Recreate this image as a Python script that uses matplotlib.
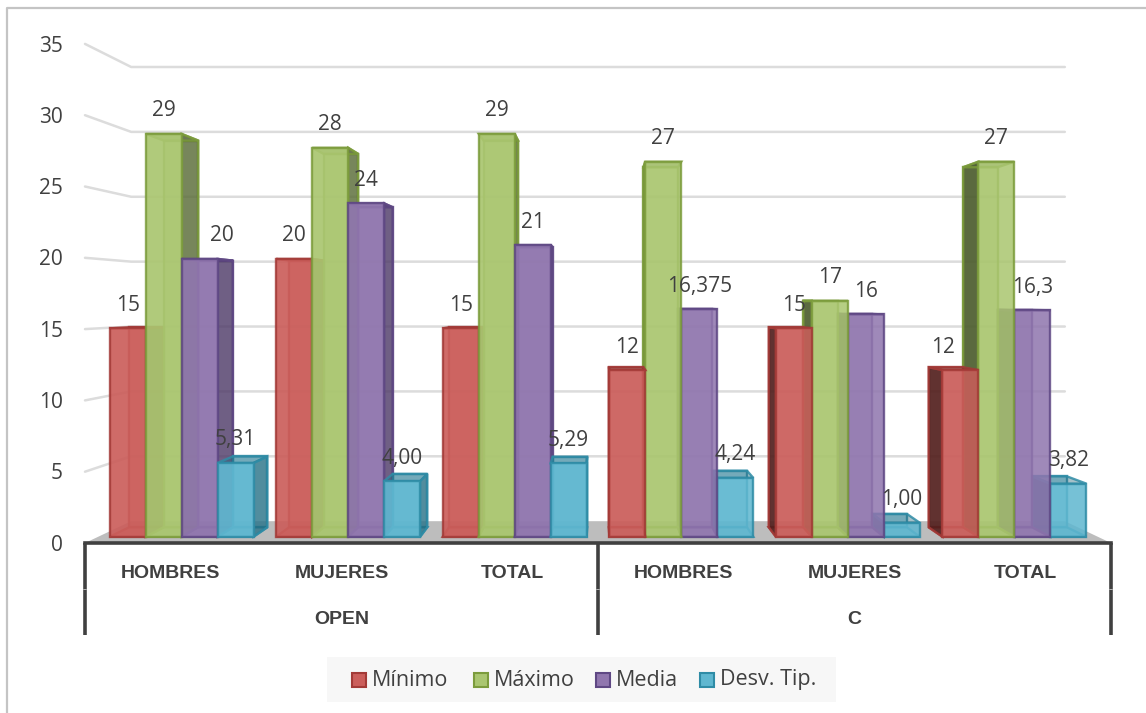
import matplotlib
matplotlib.use('Agg')
import matplotlib.pyplot as plt
from matplotlib.patches import Polygon, Rectangle

categories = ['HOMBRES', 'MUJERES', 'TOTAL', 'HOMBRES', 'MUJERES', 'TOTAL']
groups = ['OPEN', 'C']
series_names = ['Mínimo', 'Máximo', 'Media', 'Desv. Tip.']
minimo = [15, 20, 15, 12, 15, 12]
maximo = [29, 28, 29, 27, 17, 27]
media = [20, 24, 21, 16.375, 16, 16.3]
desv = [5.31, 4.00, 5.29, 4.24, 1.00, 3.82]
label_minimo = ['15', '20', '15', '12', '15', '12']
label_maximo = ['29', '28', '29', '27', '17', '27']
label_media = ['20', '24', '21', '16,375', '16', '16,3']
label_desv = ['5,31', '4,00', '5,29', '4,24', '1,00', '3,82']
y_ticks = [0, 5, 10, 15, 20, 25, 30, 35]

all_values = [minimo, maximo, media, desv]
all_labels = [label_minimo, label_maximo, label_media, label_desv]
faces = ['#cb5e5b', '#aac670', '#9076ae', '#5fb7d0']
edges = ['#a33a37', '#7c9c3c', '#5f4884', '#2f8ca6']
sides = ['#4a1c1a', '#46552a', '#402e58', '#1f6478']
TEXT = '#404040'

W, H = 1146, 713
PX_X = 171.0    # pixels per category on the front plane
PX_Y = 14.26    # pixels per unit on the front plane
X0, Y0 = 85, 543

# perspective: everything shrinks towards this point as depth grows
VX, VY = 3.0, 17.0
S_BAR_FRONT = 0.974
S_BAR_BACK = 0.935
S_WALL = 0.91
BAR_W = 0.216


def proj(x, y, s):
    return (VX + (x - VX) * s, VY + (y - VY) * s)


def draw_bar(ax, x, value, i):
    x1 = x + BAR_W
    fb = [proj(x, 0, S_BAR_FRONT), proj(x1, 0, S_BAR_FRONT)]
    ft = [proj(x, value, S_BAR_FRONT), proj(x1, value, S_BAR_FRONT)]
    bb = [proj(x, 0, S_BAR_BACK), proj(x1, 0, S_BAR_BACK)]
    bt = [proj(x, value, S_BAR_BACK), proj(x1, value, S_BAR_BACK)]
    # the side turned to the viewer depends on which half the bar is in
    k = 1 if x1 < VX else 0
    front_alpha = 0.92 if k == 1 else 0.86
    polys = [
        ([fb[0], fb[1], bb[1], bb[0]], faces[i], 0.5),
        ([bb[0], bb[1], bt[1], bt[0]], faces[i], 0.5),
        ([fb[k], ft[k], bt[k], bb[k]], sides[i], 0.85 if k == 0 else 0.65),
        ([ft[0], ft[1], bt[1], bt[0]], sides[i], 0.4),
        ([fb[0], fb[1], ft[1], ft[0]], faces[i], front_alpha),
    ]
    for pts, col, alpha in polys:
        ax.add_patch(Polygon(pts, closed=True, facecolor=col, alpha=alpha, lw=0, zorder=3))
        ax.add_patch(Polygon(pts, closed=True, fill=False, edgecolor=edges[i], lw=1.7,
                             alpha=0.85, zorder=3))


fig = plt.figure(figsize=(W / 100, H / 100), dpi=100)
plt.rcParams['font.family'] = ['Open Sans', 'DejaVu Sans']
ax = fig.add_axes([0, 0, 1, 1])
ax.set_xlim(-X0 / PX_X, (W - X0) / PX_X)
ax.set_ylim((Y0 - H) / PX_Y, Y0 / PX_Y)
ax.axis('off')


def px(x_pixels):
    return (x_pixels - X0) / PX_X


def py(y_pixels):
    return (Y0 - y_pixels) / PX_Y


# chart frame
ax.plot([px(7), px(7), px(W)], [py(H), py(7.5), py(7.5)], color='#c4c4c4', lw=1.6, clip_on=False)

# floor and gridlines on the back wall
ax.add_patch(Polygon([proj(0, 0, 1), proj(0, 0, S_WALL), proj(6, 0, S_WALL), proj(6, 0, 1)],
                     facecolor='#bdbdbd', lw=0, zorder=1))
for t in y_ticks:
    line = [proj(0, t, 1), proj(0, t, S_WALL), proj(6, t, S_WALL)]
    if t > 0:
        ax.plot(*zip(*line), color='#dcdcdc', lw=1.8, solid_capstyle='round', zorder=2)
    ax.text(px(63), t - 0.15, str(t), ha='right', va='center', fontsize=15, color=TEXT)

# bars, painted from the outside in so the inner ones overlap
order = [0, 1, 2, 3]
for c in [0, 1, 2, 5, 4, 3]:
    seq = order if c < 3 else order[::-1]
    for i in seq:
        draw_bar(ax, c + 0.5 + (i - 2) * BAR_W, all_values[i][c], i)

# data labels sit above the front top edge of each bar
label_shift = {(2, 0): 22, (0, 5): -17}
for i, (values, texts) in enumerate(zip(all_values, all_labels)):
    for c, (v, txt) in enumerate(zip(values, texts)):
        lx, ly = proj(c + 0.5 + (i - 1.5) * BAR_W, v, S_BAR_FRONT)
        ax.annotate(txt, (lx, ly), xytext=(label_shift.get((i, c), 0) * 0.72, 23 * 0.72),
                    textcoords='offset points', ha='center', va='center',
                    fontsize=15, color=TEXT, zorder=5)

# two-level category axis
ax.plot([0, 6], [0, 0], color=TEXT, lw=2.6, solid_capstyle='projecting', zorder=4)
for x in [0, 3, 6]:
    ax.plot([x, x], [0, py(635)], color=TEXT, lw=2.6, solid_capstyle='butt', zorder=4)
    ax.plot([x, x], [py(588.5), py(590)], color='#b0b0b0', lw=2.6, solid_capstyle='butt', zorder=4)
bold_font = ['Liberation Sans', 'DejaVu Sans']
for c, name in enumerate(categories):
    ax.text(c + 0.5, py(573), name, ha='center', va='center', fontsize=14, fontweight='bold',
            color=TEXT, family=bold_font)
for g, name in enumerate(groups):
    ax.text(1.5 + 3 * g, py(619), name, ha='center', va='center', fontsize=14, fontweight='bold',
            color=TEXT, family=bold_font)

# legend, laid out by hand on a light panel
ax.add_patch(Rectangle((px(327), py(702)), px(836) - px(327), py(657) - py(702),
                       facecolor='#f7f7f7', edgecolor='none'))
legend_x = [352, 474, 596, 700]
for i, name in enumerate(series_names):
    ax.add_patch(Rectangle((px(legend_x[i]), py(687)), 14 / PX_X, 14 / PX_Y,
                           facecolor=faces[i], edgecolor='none'))
    ax.add_patch(Rectangle((px(legend_x[i]), py(687)), 14 / PX_X, 14 / PX_Y,
                           fill=False, edgecolor=edges[i], lw=1.5))
    ax.text(px(legend_x[i] + 20), py(680), name, ha='left', va='center', fontsize=15.5, color=TEXT)

fig.savefig('out.png', dpi=100)
plt.close(fig)
